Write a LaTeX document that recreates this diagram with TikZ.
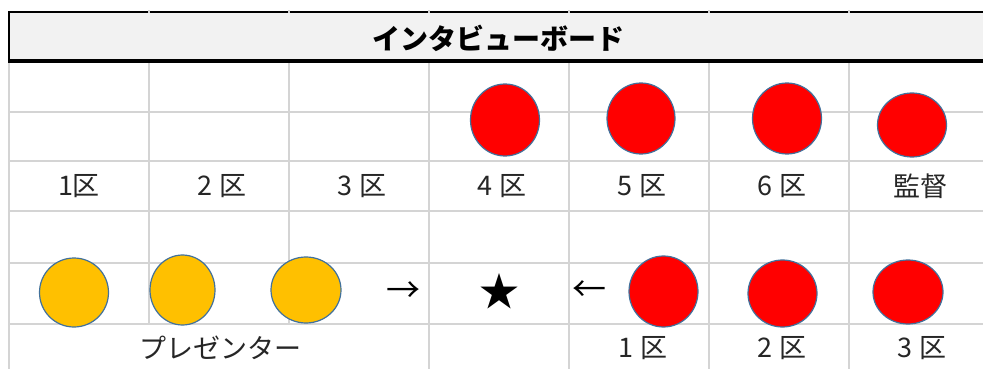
\documentclass[tikz,border=0pt]{standalone}
\usepackage{fontspec}
\newfontfamily\jp{Noto Sans CJK JP}
\usetikzlibrary{shapes.geometric}
\definecolor{gridgray}{HTML}{D4D4D4}
\definecolor{ring}{HTML}{41719C}
\definecolor{redfill}{HTML}{FF0000}
\definecolor{yellowfill}{HTML}{FFC000}
\definecolor{titlebg}{HTML}{F2F2F2}
\begin{document}
\begin{tikzpicture}[x=1pt,y=-1pt,
  gridline/.style={draw=gridgray, line width=1.5pt},
  ball/.style={ellipse, draw=ring, line width=1.2pt, inner sep=0pt},
  redball/.style={ball, fill=redfill},
  yellowball/.style={ball, fill=yellowfill},
  label/.style={font=\jp\fontsize{27}{27}\selectfont, inner sep=0pt, text=black!85},
  arrowlabel/.style={font=\jp\fontsize{34}{34}\selectfont, inner sep=0pt},
  starlabel/.style={font=\jp\fontsize{40}{40}\selectfont, inner sep=0pt},
  titlelabel/.style={font=\jp\bfseries\fontsize{28}{28}\selectfont, inner sep=0pt}
]
\useasboundingbox (0,0) rectangle (983,369);
\fill[white] (0,0) rectangle (983,369);

% grid
\foreach \yy in {112,161,211,263,324} \draw[gridline] (9,\yy) -- (983,\yy);
\foreach \xx in {149,289} \draw[gridline] (\xx,61) -- (\xx,324);
\foreach \xx in {9,429,569,709,849} \draw[gridline] (\xx,61) -- (\xx,369);

% title box
\fill[titlebg] (9,12) rectangle (983,61);
\draw[black, line width=1.3pt] (9,12) -- (983,12);
\foreach \xx in {149,289,429,569,709,849} \draw[gridgray, line width=1.5pt] (\xx,10.5) -- (\xx,13.2);
\draw[black, line width=2pt] (9,11.5) -- (9,61);
\draw[black, line width=3.5pt] (8,61) -- (983,61);
\node[titlelabel] (title) at (498,38) {インタビューボード};

% top red circles
\node[redball, minimum width=69, minimum height=72] (r4) at (505,120) {};
\node[redball, minimum width=68, minimum height=71] (r5) at (641,118.5) {};
\node[redball, minimum width=69, minimum height=71] (r6) at (787,118.5) {};
\node[redball, minimum width=69, minimum height=64] (rk) at (912,125) {};

% top labels
\node[label] (l1) at (79,186) {1区};
\node[label] (l2) at (222,186) {2 区};
\node[label] (l3) at (362,186) {3 区};
\node[label] (l4) at (502,186) {4 区};
\node[label] (l5) at (642,186) {5 区};
\node[label] (l6) at (782,186) {6 区};
\node[label] (lk) at (920,186) {監督};

% bottom row
\node[yellowball, minimum width=69, minimum height=69] (y1) at (74,292.5) {};
\node[yellowball, minimum width=65, minimum height=70] (y2) at (182.5,290) {};
\node[yellowball, minimum width=70, minimum height=66] (y3) at (306,290) {};
\node[arrowlabel] (ar) at (403,292) {→};
\node[starlabel] (star) at (499,291) {★};
\node[arrowlabel] (al) at (589,291) {←};
\node[redball, minimum width=69, minimum height=71] (b1) at (663.5,291.5) {};
\node[redball, minimum width=69, minimum height=67] (b2) at (782.5,293.5) {};
\node[redball, minimum width=70, minimum height=64] (b3) at (908,292) {};

% bottom labels
\node[label] (pres) at (220,348) {プレゼンター};
\node[label] (m1) at (643,348) {1 区};
\node[label] (m2) at (782,348) {2 区};
\node[label] (m3) at (922,348) {3 区};
\end{tikzpicture}
\end{document}
